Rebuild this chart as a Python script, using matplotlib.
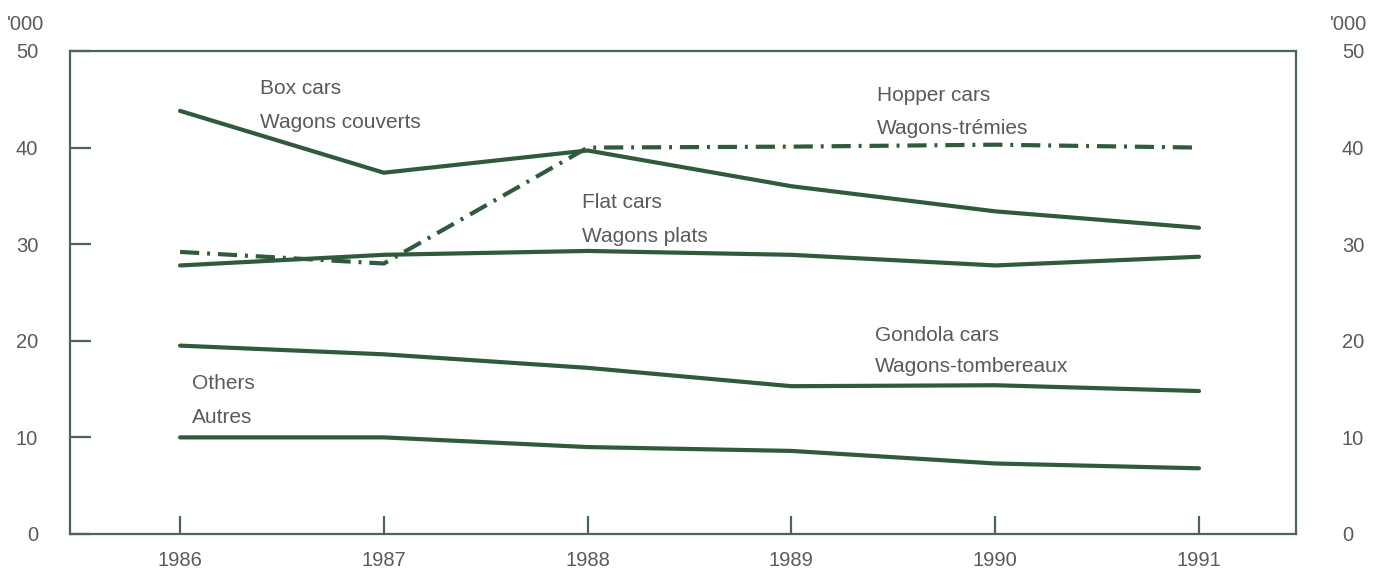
import matplotlib
matplotlib.use("Agg")
import matplotlib.pyplot as plt

plt.rcParams['font.family'] = ['Liberation Sans', 'DejaVu Sans']

years = [1986, 1987, 1988, 1989, 1990, 1991]
box_cars = [43.8, 37.4, 39.7, 36.0, 33.4, 31.7]
hopper_cars = [29.2, 28.0, 40.0, 40.1, 40.3, 40.0]
flat_cars = [27.8, 28.9, 29.3, 28.9, 27.8, 28.7]
gondola_cars = [19.5, 18.6, 17.2, 15.3, 15.4, 14.8]
others = [10.0, 10.0, 9.0, 8.6, 7.3, 6.8]
y_ticks = [0, 10, 20, 30, 40, 50]

line_col = '#2f5a3c'
axis_col = '#4d6456'
text_col = '#5a5a5a'

fig = plt.figure(figsize=(13.84, 5.71), dpi=100)
ax = fig.add_axes([0.0506, 0.0648, 0.9364 - 0.0506, 0.9107 - 0.0648])

lw = 3.0
ax.plot(years, box_cars, color=line_col, lw=lw, solid_capstyle='round')
ax.plot(years, flat_cars, color=line_col, lw=lw, solid_capstyle='round')
ax.plot(years, gondola_cars, color=line_col, lw=lw, solid_capstyle='round')
ax.plot(years, others, color=line_col, lw=lw, solid_capstyle='round')
ax.plot(years, hopper_cars, color=line_col, lw=lw, linestyle=(0, (4.6, 1.9, 0.7, 1.9)),
        dash_capstyle='butt')

ax.set_xlim(1985.46, 1991.476)
ax.set_ylim(0, 50)
ax.set_xticks(years)
ax.set_yticks(y_ticks)

for s in ax.spines.values():
    s.set_color(axis_col)
    s.set_linewidth(1.6)

tick_fs = 14.5
ax.tick_params(axis='x', direction='in', length=13, width=1.6, color=axis_col,
               labelsize=tick_fs, labelcolor=text_col, pad=12)
ax.tick_params(axis='y', direction='in', length=15, width=1.6, color=axis_col,
               labelsize=tick_fs, labelcolor=text_col, pad=23,
               left=True, right=True, labelleft=True, labelright=False)

ax2 = ax.twinx()
ax2.set_ylim(0, 50)
ax2.set_yticks(y_ticks)
ax2.tick_params(axis='y', direction='in', length=0, labelsize=tick_fs,
                labelcolor=text_col, pad=33)
for s in ax2.spines.values():
    s.set_visible(False)

fig.text(0.005, 0.957, "'000", fontsize=tick_fs, color=text_col, ha='left', va='center')
fig.text(0.988, 0.957, "'000", fontsize=tick_fs, color=text_col, ha='right', va='center')

lab = dict(fontsize=15, color=text_col, ha='left', va='center')
ax.text(1986.39, 46.1, 'Box cars', **lab)
ax.text(1986.39, 42.6, 'Wagons couverts', **lab)
ax.text(1989.42, 45.4, 'Hopper cars', **lab)
ax.text(1989.42, 42.0, 'Wagons-trémies', **lab)
ax.text(1987.97, 34.3, 'Flat cars', **lab)
ax.text(1987.97, 30.8, 'Wagons plats', **lab)
ax.text(1989.41, 20.5, 'Gondola cars', **lab)
ax.text(1989.41, 17.3, 'Wagons-tombereaux', **lab)
ax.text(1986.06, 15.6, 'Others', **lab)
ax.text(1986.06, 12.1, 'Autres', **lab)

fig.savefig('out.png', dpi=100, facecolor='white')
